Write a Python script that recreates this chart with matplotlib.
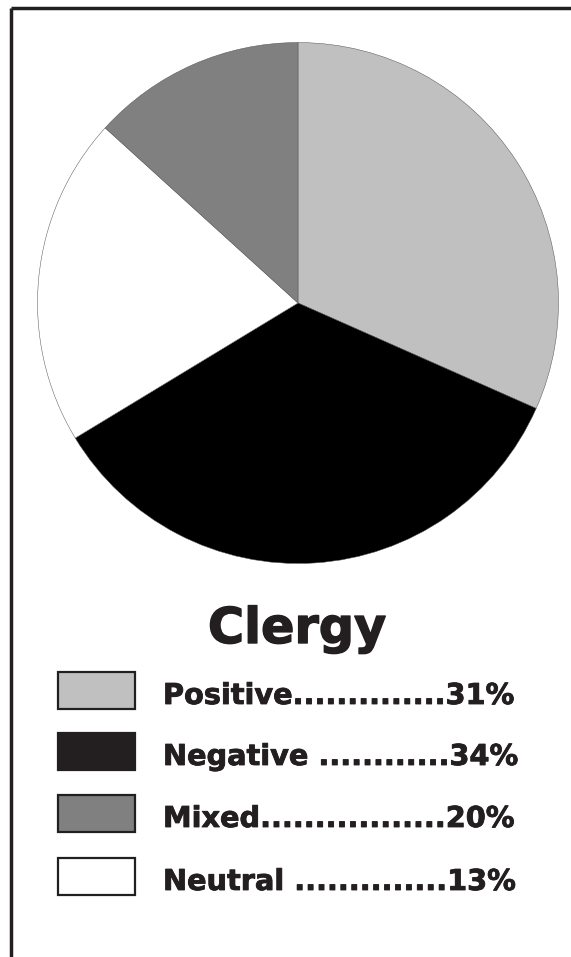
import matplotlib
matplotlib.use("Agg")
import matplotlib.pyplot as plt
import matplotlib.patches as mpatches
import matplotlib.patheffects as pe

title = "Clergy"

# wedges as drawn in the picture (clockwise from 12 o'clock)
pie_values = [31, 34, 20, 13]
pie_colors = ['#c0c0c0', '#000000', '#ffffff', '#808080']

# legend rows as printed
leg_names = ["Positive", "Negative ", "Mixed", "Neutral "]
leg_dots = [14, 12, 17, 14]
leg_pcts = [31, 34, 20, 13]
leg_colors = ['#c0c0c0', '#231f20', '#808080', '#ffffff']

ink = '#231f20'
W, H = 571, 957

fig = plt.figure(figsize=(W / 100, H / 100), dpi=100)
fig.patch.set_facecolor('white')

# background axes in pixel coords
bg = fig.add_axes([0, 0, 1, 1])
bg.set_xlim(0, W)
bg.set_ylim(H, 0)
bg.axis('off')

# frame (top and left only)
bg.plot([11, W + 5], [8, 8], color=ink, lw=2.5, solid_capstyle='butt')
bg.plot([11, 11], [8, H + 5], color=ink, lw=2.5, solid_capstyle='butt')

# pie
cx, cy, r = 298, 303, 261
pax = fig.add_axes([(cx - r) / W, 1 - (cy + r) / H, 2 * r / W, 2 * r / H])
wedges, _ = pax.pie(pie_values, colors=pie_colors, startangle=90, counterclock=False,
                    radius=1, wedgeprops={'edgecolor': '#555555', 'linewidth': 0.35})
pax.set_xlim(-1.002, 1.002)
pax.set_ylim(-1.002, 1.002)
pax.set_aspect('equal')
pax.axis('off')

bg.text(297, 643, title, ha='center', va='baseline', fontsize=35.5,
        fontweight='bold', family='DejaVu Sans', color=ink,
        path_effects=[pe.withStroke(linewidth=1.0, foreground=ink)])

box_tops = [672, 733, 795, 858]
for i in range(len(leg_names)):
    y0 = box_tops[i]
    bg.add_patch(mpatches.Rectangle((58, y0), 77, 37, facecolor=leg_colors[i],
                                    edgecolor=ink, lw=1.6))
    s = "%s%s%d%%" % (leg_names[i], "." * leg_dots[i], leg_pcts[i])
    bg.text(163, y0 + 32, s, ha='left', va='baseline', fontsize=20.7,
            fontweight='bold', family='DejaVu Sans', color=ink,
            path_effects=[pe.withStroke(linewidth=0.6, foreground=ink)])

fig.savefig("out.png", dpi=100, facecolor='white')
